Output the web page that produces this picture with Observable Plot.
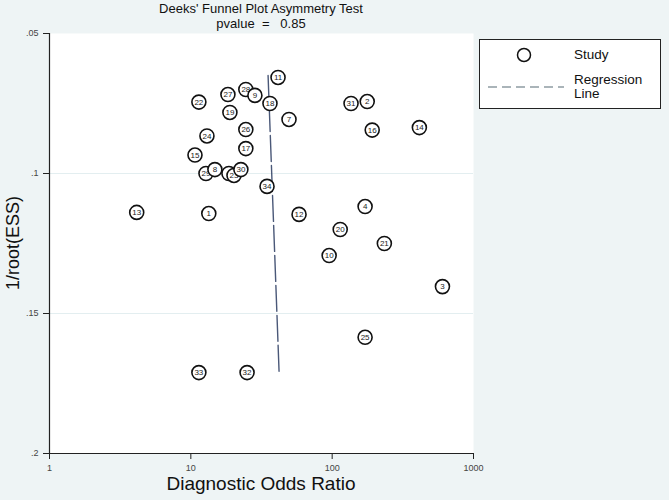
<!DOCTYPE html>
<html>
<head>
<meta charset="utf-8">
<script src="https://cdn.jsdelivr.net/npm/d3@7"></script>
<script src="https://cdn.jsdelivr.net/npm/@observablehq/plot@0.6"></script>
<style>
  html, body { margin: 0; padding: 0; background: #eef4f5; }
  #wrap { position: relative; width: 669px; height: 500px; font-family: "Liberation Sans", Arial, sans-serif; overflow: hidden; }
  #chart { position: absolute; left: 0; top: 0; }
  .t { position: absolute; color: #111; white-space: nowrap; }
  #title { left: 0; width: 522px; top: 1px; text-align: center; font-size: 13px; line-height: 15px; }
  #xlab { left: 0; width: 522px; top: 473px; text-align: center; font-size: 19px; }
  #ylab { left: 13px; top: 243px; font-size: 18px; transform: translate(-50%, -50%) rotate(-90deg); }
  #legend { position: absolute; left: 479px; top: 39px; width: 180px; height: 68px; background: #fff; border: 1px solid #222; }
  #legend svg { position: absolute; left: 0; top: 0; }
  .lt { position: absolute; font-size: 13.5px; color: #111; line-height: 14px; }
</style>
</head>
<body>
<div id="wrap">
  <div id="chart"></div>
  <div class="t" id="title">Deeks' Funnel Plot Asymmetry Test<br>pvalue&nbsp; = &nbsp; 0.85</div>
  <div class="t" id="xlab">Diagnostic Odds Ratio</div>
  <div class="t" id="ylab">1/root(ESS)</div>
  <div id="legend">
    <svg width="180" height="68">
      <circle cx="44" cy="15" r="6.5" fill="none" stroke="#111" stroke-width="1.5"></circle>
      <line x1="8" x2="84" y1="47" y2="47" stroke="#8e9ca3" stroke-width="1.3" stroke-dasharray="9,5"></line>
    </svg>
    <div class="lt" style="left:94px; top:8px;">Study</div>
    <div class="lt" style="left:94px; top:33px;">Regression<br>Line</div>
  </div>
</div>
<script>
// Study labels, diagnostic odds ratios, 1/root(ESS)  (array order = drawing order)
const studyIds = ["11","28","9","27","22","2","31","18","19","7","14","16","26","24","17","15","29","8","6","23","30","34","13","1","12","4","20","21","10","3","25","33","32"];
const dorValues = [41.4,24.5,28.4,18.3,11.4,177,136,36.3,18.9,49.5,414,192,24.5,13.0,24.5,10.7,12.8,14.8,18.6,20.2,22.6,34.6,4.14,13.4,58.3,171,114,234,95.2,603,171,11.4,25.0];
const invRootEss = [0.0657,0.0700,0.0721,0.0718,0.0745,0.0743,0.0750,0.0750,0.0782,0.0807,0.0836,0.0845,0.0843,0.0866,0.0911,0.0934,0.1000,0.0986,0.1000,0.1007,0.0986,0.1046,0.1139,0.1143,0.1146,0.1118,0.1200,0.1250,0.1293,0.1404,0.1585,0.1711,0.1711];

// Regression line endpoints
const regDor = [35.2, 42.1];
const regY = [0.0650, 0.1707];

// Axis ticks
const xTicks = [1, 10, 100, 1000];
const xTickLabels = ["1", "10", "100", "1000"];
const yTicks = [0.05, 0.1, 0.15, 0.2];
const yTickLabels = [".05", ".1", ".15", ".2"];
const gridY = [0.1, 0.15];

const studies = studyIds.map((id, i) => ({id, dor: dorValues[i], y: invRootEss[i]}));
const reg = regDor.map((d, i) => ({dor: d, y: regY[i]}));

// draw each study's circle then its label, so later circles cover earlier labels
const studyMarks = studies.flatMap(s => [
  Plot.dot([s], {x: "dor", y: "y", r: 7, fill: "white", stroke: "#111", strokeWidth: 1.6}),
  Plot.text([s], {x: "dor", y: "y", text: "id", fontSize: 8, fill: "#222"})
]);

const chart = Plot.plot({
  width: 669,
  height: 500,
  marginLeft: 49,
  marginRight: 196,
  marginTop: 33,
  marginBottom: 47,
  style: {background: "transparent", fontFamily: "'Liberation Sans', Arial, sans-serif", color: "#222"},
  x: {type: "log", domain: [1, 1000]},
  y: {domain: [0.05, 0.2], reverse: true},
  marks: [
    Plot.frame({fill: "white", stroke: null}),
    Plot.ruleY(gridY, {stroke: "#e3eef0", strokeWidth: 1.2}),
    Plot.axisX(xTicks, {tickSize: 6, tickPadding: 5, fontSize: 9, fill: "#444", stroke: "#222",
      tickFormat: d => xTickLabels[xTicks.indexOf(d)], label: null}),
    Plot.axisY(yTicks, {tickSize: 6, tickPadding: 5, fontSize: 9, fill: "#444", stroke: "#222",
      tickFormat: d => yTickLabels[yTicks.indexOf(d)], label: null}),
    Plot.ruleX([1], {stroke: "#222", strokeWidth: 1.2}),
    Plot.ruleY([0.2], {stroke: "#222", strokeWidth: 1.2}),
    Plot.line(reg, {x: "dor", y: "y", stroke: "#4a5878", strokeWidth: 1.4, strokeDasharray: "26,4"}),
    ...studyMarks
  ]
});
document.getElementById("chart").appendChild(chart);
</script>
</body>
</html>
